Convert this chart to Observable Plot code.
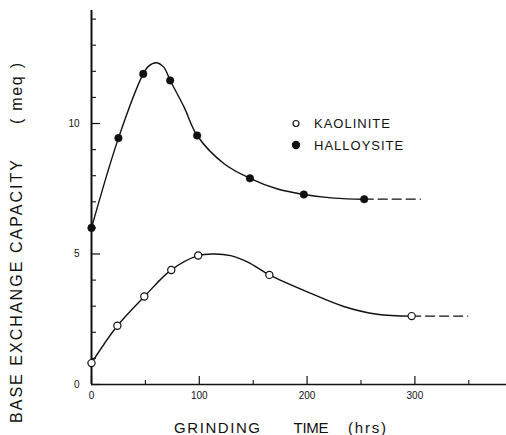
<!DOCTYPE html>
<html><head><meta charset="utf-8">
<script src="https://cdn.jsdelivr.net/npm/d3@7"></script>
<script src="https://cdn.jsdelivr.net/npm/@observablehq/plot@0.6"></script>
<style>body{margin:0;background:#fff}</style>
</head><body><div id="chart"></div>
<script>
// measured points
const kaoHours = [0, 24, 49, 74, 99, 165, 297];
const kaoValues = [0.82, 2.25, 3.37, 4.39, 4.94, 4.2, 2.62];
const halHours = [0, 25, 48, 73, 98, 147, 197, 253];
const halValues = [6.0, 9.44, 11.9, 11.65, 9.54, 7.9, 7.28, 7.1];
// drawn curves
const kaoCurveHours = [0, 24, 49, 74, 99, 114, 129, 145, 165, 203, 234, 265, 297];
const kaoCurveValues = [0.82, 2.25, 3.37, 4.39, 4.94, 5.0, 4.94, 4.69, 4.2, 3.5, 2.99, 2.69, 2.62];
const kaoDashHours = [297, 349];
const kaoDashValues = [2.62, 2.62];
const halCurveHours = [0, 25, 48, 53, 60, 67, 73, 86, 98, 123, 147, 172, 197, 225, 253];
const halCurveValues = [6.0, 9.44, 11.9, 12.2, 12.33, 12.16, 11.65, 10.62, 9.54, 8.46, 7.9, 7.5, 7.28, 7.14, 7.1];
const halDashHours = [253, 305];
const halDashValues = [7.1, 7.1];
// ticks
const yMajor = [0, 5, 10];
const yMinor = [1, 2, 3, 4, 6, 7, 8, 9, 11, 12, 13, 14];
const xMajor = [0, 100, 200, 300];
const xMinor = [50, 150, 250, 350];
const seriesNames = ["KAOLINITE", "HALLOYSITE"];

const ink = "#111";
const idx = a => a.map((_, i) => i);
const blank = () => "";

const plot = Plot.plot({
  width: 506, height: 435,
  marginLeft: 91, marginRight: 0, marginTop: 10, marginBottom: 51,
  x: {domain: [0, 385]},
  y: {domain: [0, 14.33]},
  style: {background: "white", color: ink, fontFamily: "'Liberation Sans', Arial, sans-serif"},
  marks: [
    Plot.axisY(yMajor, {tickSize: 0, tickPadding: 12, fontSize: 10, label: null}),
    Plot.axisY(yMajor, {tickSize: 9, dx: 9, tickFormat: blank, label: null, strokeWidth: 1.2}),
    Plot.axisY(yMinor, {tickSize: 5, dx: 5, tickFormat: blank, label: null, strokeWidth: 1.1}),
    Plot.axisX(xMajor, {tickSize: 0, tickPadding: 7, fontSize: 10, label: null}),
    Plot.axisX(xMajor, {tickSize: 8, dy: -8, tickFormat: blank, label: null, strokeWidth: 1.2}),
    Plot.axisX(xMinor, {tickSize: 4, dy: -4, tickFormat: blank, label: null, strokeWidth: 1.1}),
    Plot.ruleX([0], {stroke: ink, strokeWidth: 2}),
    Plot.ruleY([0], {stroke: ink, strokeWidth: 1.3}),
    Plot.line(idx(kaoCurveHours), {x: i => kaoCurveHours[i], y: i => kaoCurveValues[i], curve: "catmull-rom", stroke: ink, strokeWidth: 1.4}),
    Plot.line(idx(halCurveHours), {x: i => halCurveHours[i], y: i => halCurveValues[i], curve: "catmull-rom", stroke: ink, strokeWidth: 1.4}),
    Plot.line(idx(kaoDashHours), {x: i => kaoDashHours[i], y: i => kaoDashValues[i], stroke: ink, strokeWidth: 1.3, strokeDasharray: "9,5"}),
    Plot.line(idx(halDashHours), {x: i => halDashHours[i], y: i => halDashValues[i], stroke: ink, strokeWidth: 1.3, strokeDasharray: "9,5"}),
    Plot.dot(idx(kaoHours), {x: i => kaoHours[i], y: i => kaoValues[i], r: 3.6, fill: "white", stroke: ink, strokeWidth: 1.2}),
    Plot.dot(idx(halHours), {x: i => halHours[i], y: i => halValues[i], r: 3.8, fill: ink, stroke: ink, strokeWidth: 0.5})
  ]
});

const svg = d3.select(plot);
const font = "'Liberation Sans', Arial, sans-serif";
// y axis title
function vtext(str, cy, len) {
  svg.append("text")
    .attr("transform", `translate(16,${cy}) rotate(-90)`)
    .attr("text-anchor", "middle").attr("dominant-baseline", "central")
    .attr("font-family", font).attr("font-size", 16).attr("fill", ink)
    .attr("textLength", len).attr("lengthAdjust", "spacing")
    .text(str);
}
vtext("BASE EXCHANGE CAPACITY", 291.5, 263);
vtext("( meq )", 93.5, 61);
// x axis title
function htext(str, cx, len) {
  svg.append("text")
    .attr("x", cx).attr("y", 427)
    .attr("text-anchor", "middle").attr("dominant-baseline", "central")
    .attr("font-family", font).attr("font-size", 15).attr("fill", ink)
    .attr("textLength", len).attr("lengthAdjust", "spacing")
    .text(str);
}
htext("GRINDING", 217, 86);
htext("TIME", 311, 35);
htext("(hrs)", 367, 38);
// legend
const leg = svg.append("g").attr("font-family", font).attr("font-size", 13).attr("fill", ink);
[[123.5, "white"], [145, ink]].forEach(([y, fill], k) => {
  leg.append("circle").attr("cx", 296).attr("cy", y).attr("r", k ? 3.6 : 3)
    .attr("fill", fill).attr("stroke", ink).attr("stroke-width", 1.1);
  leg.append("text").attr("x", 314).attr("y", y).attr("text-anchor", "start")
    .attr("dominant-baseline", "central")
    .attr("letter-spacing", "1px").text(seriesNames[k]);
});

document.getElementById("chart").append(plot);
</script>
</body></html>
